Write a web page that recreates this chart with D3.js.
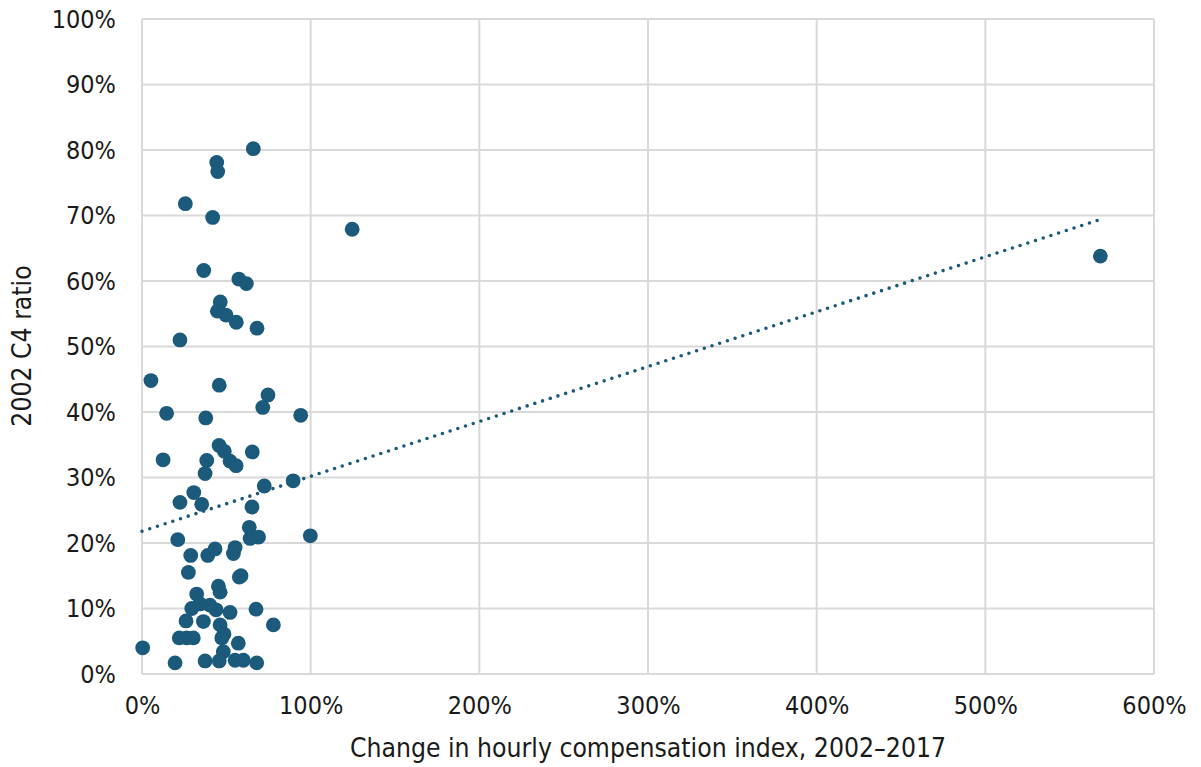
<!DOCTYPE html>
<html lang="en">
<head><meta charset="utf-8"/>
<script src="https://cdn.jsdelivr.net/npm/d3@7"></script>
<style>
body { margin: 0; background: #fff; }
text { font-family: "DejaVu Sans Condensed", "DejaVu Sans", sans-serif; font-stretch: condensed; fill: #1a1a1a; }
.grid line { stroke: #d9d9d9; stroke-width: 2px; }
.trend { fill: none; stroke: #1b5a7b; stroke-width: 3.6px; stroke-linecap: round; stroke-dasharray: 0 8.1; }
</style>
</head>
<body>
<svg id="chart" width="1201" height="767"></svg>
<script>
// change in hourly compensation index (%), 2002 C4 ratio (%)
var compChange = [66.0, 44.3, 44.9, 25.7, 41.9, 124.6, 568.2, 36.6, 57.4, 61.9,
	46.4, 44.7, 49.8, 55.9, 68.2, 22.5, 5.3, 45.8, 74.7, 71.6,
	14.6, 37.8, 94.1, 45.7, 48.8, 65.4, 52.2, 55.8, 12.5, 38.4,
	37.4, 89.6, 72.5, 30.7, 22.5, 35.4, 65.2, 63.6, 64.1, 69.1,
	21.2, 99.8, 28.9, 39.0, 43.3, 54.2, 55.2, 27.5, 58.7, 57.7,
	45.3, 32.4, 46.3, 29.5, 40.3, 34.4, 43.9, 52.2, 67.6, 26.1,
	36.4, 46.3, 77.9, 22.1, 26.5, 30.4, 47.3, 57.1, 48.2, 0.4,
	19.6, 37.4, 45.8, 55.2, 60.1, 68.0, 48.6];
var c4Ratio = [80.2, 78.1, 76.7, 71.8, 69.7, 67.9, 63.8, 61.6, 60.3, 59.6,
	56.8, 55.4, 54.8, 53.7, 52.8, 51.0, 44.8, 44.1, 42.6, 40.7,
	39.8, 39.1, 39.5, 34.9, 34.0, 33.9, 32.5, 31.8, 32.7, 32.6,
	30.6, 29.5, 28.7, 27.7, 26.2, 25.9, 25.5, 22.4, 20.7, 20.9,
	20.5, 21.1, 18.1, 18.1, 19.1, 18.4, 19.3, 15.5, 15.0, 14.8,
	13.4, 12.2, 12.5, 10.0, 10.5, 10.7, 9.8, 9.4, 9.9, 8.1,
	8.0, 7.5, 7.5, 5.5, 5.5, 5.5, 5.5, 4.7, 3.4, 4.0,
	1.7, 2.0, 2.0, 2.1, 2.1, 1.7, 6.1];

// linear trend line end points
var trendX = [0, 567];
var trendY = [21.8, 69.3];

var xTicks = [0, 100, 200, 300, 400, 500, 600];
var yTicks = [0, 10, 20, 30, 40, 50, 60, 70, 80, 90, 100];

var xTitle = "Change in hourly compensation index, 2002\u20132017";
var yTitle = "2002 C4 ratio";

var svg = d3.select("#chart"),
    margin = {top: 19, right: 47, bottom: 93, left: 142},
    width = +svg.attr("width") - margin.left - margin.right,
    height = +svg.attr("height") - margin.top - margin.bottom;

var x = d3.scaleLinear().domain([0, 600]).range([0, width]),
    y = d3.scaleLinear().domain([0, 100]).range([height, 0]);

var g = svg.append("g")
	.attr("transform", "translate(" + margin.left + "," + margin.top + ")");

// gridlines
var grid = g.append("g").attr("class", "grid");
grid.selectAll(".gx").data(xTicks).enter().append("line")
	.attr("x1", d => x(d)).attr("x2", d => x(d))
	.attr("y1", 0).attr("y2", height);
grid.selectAll(".gy").data(yTicks).enter().append("line")
	.attr("y1", d => y(d)).attr("y2", d => y(d))
	.attr("x1", 0).attr("x2", width);

// axes (labels only)
var axX = g.append("g")
	.attr("transform", "translate(0," + height + ")")
	.call(d3.axisBottom(x).tickValues(xTicks).tickSize(0).tickPadding(22).tickFormat(d => d + "%"));
var axY = g.append("g")
	.call(d3.axisLeft(y).tickValues(yTicks).tickSize(0).tickPadding(26).tickFormat(d => d + "%"));
[axX, axY].forEach(function(a){
	a.select(".domain").remove();
	a.selectAll("text").style("font-size", "25px").style("fill", "#1a1a1a")
		.style("font-family", "'DejaVu Sans Condensed', 'DejaVu Sans', sans-serif")
		.style("font-stretch", "condensed");
});

// trend line
var line = d3.line().x(d => x(d[0])).y(d => y(d[1]));
g.append("path").attr("class", "trend")
	.attr("d", line(trendX.map((v, i) => [v, trendY[i]])));

// points
var pts = compChange.map((v, i) => ({x: v, y: c4Ratio[i]}));
g.selectAll(".dot").data(pts).enter().append("circle")
	.attr("class", "dot")
	.attr("cx", d => x(d.x)).attr("cy", d => y(d.y))
	.attr("r", 7.4)
	.style("fill", "#1b5a7b");

// axis titles
svg.append("text")
	.attr("x", 648).attr("y", 757)
	.attr("text-anchor", "middle").style("font-size", "26.3px")
	.text(xTitle);
svg.append("text")
	.attr("transform", "translate(31," + 346 + ") rotate(-90)")
	.attr("text-anchor", "middle").style("font-size", "26.3px")
	.text(yTitle);
</script>
</body>
</html>
